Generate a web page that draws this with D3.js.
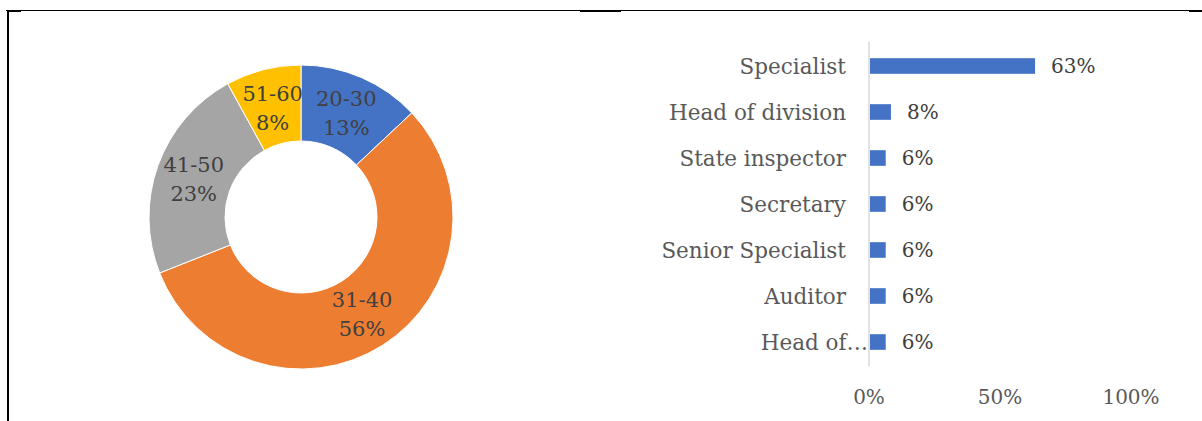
<!DOCTYPE html>
<html>
<head>
<meta charset="utf-8">
<script src="https://cdn.jsdelivr.net/npm/d3@7"></script>
<style>
  body { margin: 0; background: #fff; }
  text { font-family: "DejaVu Serif", serif; }
</style>
</head>
<body>
<script>
// age groups (donut)
const ageGroups = ["20-30", "31-40", "41-50", "51-60"],
      agePercent = [13, 56, 23, 8],
      ageColors = ["#4472C4", "#ED7D31", "#A5A5A5", "#FFC000"];

// positions (bar chart)
const positions = ["Specialist", "Head of division", "State inspector", "Secretary",
                   "Senior Specialist", "Auditor", "Head of..."],
      positionPercent = [63, 8, 6, 6, 6, 6, 6],
      xTicks = [0, 50, 100];

const width = 1202, height = 421;
const svg = d3.select("body").append("svg")
              .attr("width", width)
              .attr("height", height);

// page frame lines
svg.append("line").attr("x1", 6).attr("x2", width).attr("y1", 10.5).attr("y2", 10.5)
   .attr("stroke", "#000").attr("stroke-width", 1);
svg.append("line").attr("x1", 8).attr("x2", 8).attr("y1", 10).attr("y2", height)
   .attr("stroke", "#000").attr("stroke-width", 2);
[[7, 21], [580, 621], [1189, 1202]].forEach(s => {
  svg.append("line").attr("x1", s[0]).attr("x2", s[1]).attr("y1", 11).attr("y2", 11)
     .attr("stroke", "#000").attr("stroke-width", 2);
});

// ---- donut
const donut = svg.append("g").attr("transform", "translate(301,217)");
const outerR = 152, innerR = 76;
const pie = d3.pie().sort(null).value(d => d);
const arc = d3.arc().innerRadius(innerR).outerRadius(outerR);
const labelArc = d3.arc().innerRadius(114).outerRadius(114);

const slices = pie(agePercent);
donut.selectAll("path.slice")
     .data(slices)
     .join("path")
     .attr("class", "slice")
     .attr("d", arc)
     .attr("fill", (d, i) => ageColors[i])
     .attr("stroke", "#fff")
     .attr("stroke-width", 1);

const lbl = donut.selectAll("text.lbl")
     .data(slices)
     .join("text")
     .attr("class", "lbl")
     .attr("transform", d => "translate(" + labelArc.centroid(d) + ")")
     .attr("text-anchor", "middle")
     .attr("fill", "#404040")
     .style("font-size", "21px");
lbl.append("tspan").attr("x", 0).attr("y", -6).text((d, i) => ageGroups[i]);
lbl.append("tspan").attr("x", 0).attr("y", 23).text(d => d.data + "%");

// ---- bars
const x = d3.scaleLinear().domain([0, 100]).range([869, 1131]);
const y = d3.scaleBand().domain(positions).range([43, 365]).paddingInner(0.66).paddingOuter(0.33);

svg.append("line")
   .attr("x1", x(0)).attr("x2", x(0))
   .attr("y1", 42).attr("y2", 366)
   .attr("stroke", "#d9d9d9").attr("stroke-width", 1.5);

svg.selectAll("rect.bar")
   .data(positions)
   .join("rect")
   .attr("class", "bar")
   .attr("x", x(0) + 1)
   .attr("y", d => y(d))
   .attr("width", (d, i) => x(positionPercent[i]) - x(0))
   .attr("height", y.bandwidth())
   .attr("fill", "#4472C4");

svg.selectAll("text.val")
   .data(positions)
   .join("text")
   .attr("class", "val")
   .attr("x", (d, i) => x(positionPercent[i]) + 17)
   .attr("y", d => y(d) + y.bandwidth() / 2)
   .attr("dy", "0.35em")
   .attr("fill", "#404040")
   .style("font-size", "20px")
   .text((d, i) => positionPercent[i] + "%");

// truncated label overflows to the axis, as in the original
svg.selectAll("text.cat")
   .data(positions)
   .join("text")
   .attr("class", "cat")
   .attr("x", d => d === "Head of..." ? 868 : 846)
   .attr("y", d => y(d) + y.bandwidth() / 2)
   .attr("dy", "0.35em")
   .attr("text-anchor", "end")
   .attr("fill", "#595959")
   .style("font-size", "21.5px")
   .text(d => d === "Head of..." ? "Head of\u2026" : d);

svg.selectAll("text.tick")
   .data(xTicks)
   .join("text")
   .attr("class", "tick")
   .attr("x", d => x(d))
   .attr("y", 397)
   .attr("dy", "0.35em")
   .attr("text-anchor", "middle")
   .attr("fill", "#595959")
   .style("font-size", "20px")
   .text(d => d + "%");
</script>
</body>
</html>
